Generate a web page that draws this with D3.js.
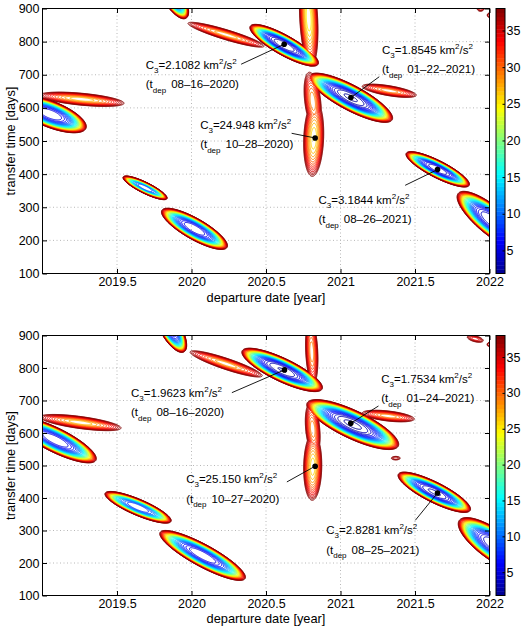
<!DOCTYPE html>
<html>
<head>
<meta charset="utf-8">
<script src="https://cdn.jsdelivr.net/npm/d3@7"></script>
<style>
  body { margin: 0; background: #fff; }
  svg text { font-family: "Liberation Sans", Arial, Helvetica, sans-serif; fill: #000; }
</style>
</head>
<body>
<svg id="chart" width="525" height="626"></svg>
<script>
// axis values
const xDomain = [2019, 2022];
const xTicks = [2019.5, 2020, 2020.5, 2021, 2021.5, 2022];
const yDomain = [100, 900];
const yTicks = [100, 200, 300, 400, 500, 600, 700, 800, 900];
const cbTicks = [5, 10, 15, 20, 25, 30, 35];
const cMax = 38;
const levels = d3.range(2, 39, 1);   // contour levels, km^2/s^2

// C3 "islands":
// [year1, days1, year2, days2, half width (days), min C3, steepness]
const topBlobs = [
  [2018.815, 623.0, 2019.292, 538.4, 39.3, 4, 3],
  [2018.983, 638.1, 2019.547, 613.9, 18, 26, 2],
  [2019.789, 1000.6, 2019.964, 870.7, 30, 5, 3],
  [2019.977, 855.6, 2020.487, 786.1, 15, 27, 2],
  [2020.394, 846.5, 2020.850, 731.7, 30, 2.1082, 3],
  [2020.770, 1015.7, 2020.803, 725.7, 27, 24, 2],
  [2020.830, 623.0, 2020.810, 393.4, 30, 24.948, 2],
  [2020.790, 707.6, 2020.837, 532.3, 24, 28, 2],
  [2020.790, 697.0, 2021.347, 564.1, 37.8, 1.8545, 3],
  [2021.146, 665.3, 2021.508, 638.1, 15, 28, 2],
  [2021.441, 462.9, 2021.864, 366.2, 25.7, 3.1844, 3],
  [2021.790, 342.0, 2022.240, 175.9, 42, 3, 3],
  [2019.541, 391.3, 2019.836, 326.0, 16.6, 8, 3],
  [2019.801, 290.7, 2020.239, 178.9, 31.7, 4, 3],
  [2021.918, 897.9, 2021.965, 900.9, 7.5, 34, 2],
  [2021.985, 879.8, 2022.005, 879.8, 6, 35, 2]
];
const bottomBlobs = [
  [2018.815, 639.9, 2019.359, 516.4, 37, 4, 3],
  [2018.983, 649.1, 2019.527, 615.2, 18.5, 26, 2],
  [2019.776, 985.5, 2019.950, 849.7, 31, 5, 3],
  [2019.991, 849.7, 2020.474, 775.6, 17, 27, 2],
  [2020.340, 852.8, 2020.877, 735.5, 35.5, 1.9623, 3],
  [2020.797, 948.5, 2020.817, 750.9, 18.5, 28, 2],
  [2020.817, 599.7, 2020.810, 393.0, 27.8, 25.150, 2],
  [2020.797, 692.3, 2020.830, 531.8, 21.6, 28, 2],
  [2020.776, 692.3, 2021.388, 559.6, 43, 1.7534, 3],
  [2021.146, 661.5, 2021.495, 642.9, 15.4, 28, 2],
  [2021.341, 522.6, 2021.401, 522.6, 5.5, 35, 2],
  [2021.388, 473.2, 2021.871, 362.1, 31, 2.8281, 3],
  [2021.797, 331.2, 2022.274, 177.0, 46, 3, 3],
  [2019.420, 414.6, 2019.863, 328.2, 24.7, 7, 3],
  [2019.789, 294.2, 2020.360, 152.3, 34, 4, 3],
  [2021.851, 896.0, 2021.958, 883.6, 9, 33, 2],
  [2021.985, 874.4, 2022.005, 871.3, 6, 35, 2]
];

// marked minima: [year, days, C3, departure date]
const topMinima = [
  [2020.622, 792.1, "2.1082", "08–16–2020"],
  [2021.070, 631.1, "1.8545", "01–22–2021"],
  [2020.830, 509.1, "24.948", "10–28–2020"],
  [2021.651, 413.6, "3.1844", "08–26–2021"]
];
const bottomMinima = [
  [2020.624, 794.2, "1.9623", "08–16–2020"],
  [2021.069, 629.7, "1.7534", "01–24–2021"],
  [2020.830, 497.9, "25.150", "10–27–2020"],
  [2021.651, 415.5, "2.8281", "08–25–2021"]
];
// where each label sits: [text year, text days, leader year, leader days]
const topLabelPos = [
  [2019.693, 718.1, 2020.333, 731.7],
  [2021.278, 764.1, 2021.260, 694.0],
  [2020.058, 537.5, 2020.672, 523.3],
  [2020.852, 310.9, 2021.434, 366.2]
];
const bottomLabelPos = [
  [2019.594, 710.8, 2020.271, 724.1],
  [2021.273, 754.0, 2021.255, 683.1],
  [2019.964, 445.4, 2020.640, 449.4],
  [2020.904, 288.0, 2021.502, 331.3]
];

const left = 42.5, right = 489.5;
const panels = [
  { top: 8.5, bottom: 273.5, blobs: topBlobs, minima: topMinima, labels: topLabelPos, cMin: 1.8545, xTitle: 301.5 },
  { top: 335.5, bottom: 595.5, blobs: bottomBlobs, minima: bottomMinima, labels: bottomLabelPos, cMin: 1.7534, xTitle: 623 }
];

// MATLAB jet
const jet = d3.scaleLinear()
  .domain([0, 0.125, 0.375, 0.625, 0.875, 1])
  .range(["#00008f", "#0000ff", "#00ffff", "#ffff00", "#ff0000", "#800000"])
  .clamp(true);

const svg = d3.select("#chart");

panels.forEach((p, k) => {
  const x = d3.scaleLinear().domain(xDomain).range([left, right]);
  const y = d3.scaleLinear().domain(yDomain).range([p.bottom, p.top]);
  const g = svg.append("g");

  // dotted grid
  g.append("g").selectAll("line")
    .data(xTicks.filter(t => t < xDomain[1]))
    .join("line")
    .attr("x1", d => x(d)).attr("x2", d => x(d))
    .attr("y1", p.top).attr("y2", p.bottom)
    .attr("stroke", "#b8b8b8").attr("stroke-dasharray", "1,2.5");
  g.append("g").selectAll("line")
    .data(yTicks.filter(t => t > yDomain[0] && t < yDomain[1]))
    .join("line")
    .attr("x1", left).attr("x2", right)
    .attr("y1", d => y(d)).attr("y2", d => y(d))
    .attr("stroke", "#b8b8b8").attr("stroke-dasharray", "1,2.5");

  // build the C3 field on a fine pixel grid
  const pad = 12, step = 0.5;
  const gx0 = left - pad, gy0 = p.top - pad;
  const nx = Math.ceil((right - left + 2 * pad) / step);
  const ny = Math.ceil((p.bottom - p.top + 2 * pad) / step);
  const comps = p.blobs.map(b => {
    const ax = x(b[0]), ay = y(b[1]), bx = x(b[2]), by = y(b[3]);
    const len = Math.hypot(bx - ax, by - ay) / 2;
    return {
      cx: (ax + bx) / 2, cy: (ay + by) / 2, len: len,
      ux: (bx - ax) / (2 * len), uy: (by - ay) / (2 * len),
      w: Math.abs(y(0) - y(b[4])), c: b[5], p: b[6]
    };
  });
  const values = new Float64Array(nx * ny);
  for (let j = 0; j < ny; j++) {
    const py = gy0 + (j + 0.5) * step;
    for (let i = 0; i < nx; i++) {
      const px = gx0 + (i + 0.5) * step;
      let v = 1000;
      for (const c of comps) {
        const dx = px - c.cx, dy = py - c.cy;
        const a = (dx * c.ux + dy * c.uy) / c.len;
        const b = (dy * c.ux - dx * c.uy) / c.w;
        const r2 = a * a + b * b;
        if (r2 > 4) continue;
        const val = c.c + (cMax - c.c) * Math.pow(r2, c.p / 2);
        if (val < v) v = val;
      }
      values[j * nx + i] = -v;
    }
  }
  const contours = d3.contours()
    .size([nx, ny])
    .thresholds(levels.map(l => -l))(values)
    .sort((a, b) => b.value - a.value);
  const path = d3.geoPath(d3.geoIdentity().scale(step).translate([gx0, gy0]));

  svg.append("clipPath").attr("id", "clip" + k)
    .append("rect")
    .attr("x", left).attr("y", p.top)
    .attr("width", right - left).attr("height", p.bottom - p.top);

  g.append("g").attr("clip-path", `url(#clip${k})`)
    .selectAll("path")
    .data(contours)
    .join("path")
    .attr("d", path)
    .attr("fill", "none")
    .attr("stroke", d => jet((-d.value - p.cMin) / (cMax - p.cMin)))
    .attr("stroke-width", 1);

  // annotations
  const ann = g.append("g");
  p.minima.forEach((m, i) => {
    const lp = p.labels[i];
    ann.append("line")
      .attr("x1", x(lp[2])).attr("y1", y(lp[3]))
      .attr("x2", x(m[0])).attr("y2", y(m[1]))
      .attr("stroke", "#000").attr("stroke-width", 0.9);
    ann.append("circle")
      .attr("cx", x(m[0])).attr("cy", y(m[1])).attr("r", 2.8)
      .attr("fill", "#000");
    const t1 = ann.append("text")
      .attr("x", x(lp[0])).attr("y", y(lp[1]))
      .attr("font-size", 11.5);
    t1.append("tspan").text("C");
    t1.append("tspan").attr("font-size", 8).attr("dy", 4).text("3");
    t1.append("tspan").attr("dy", -4).text("=" + m[2] + " km");
    t1.append("tspan").attr("font-size", 8).attr("dy", -5).text("2");
    t1.append("tspan").attr("dy", 5).text("/s");
    t1.append("tspan").attr("font-size", 8).attr("dy", -5).text("2");
    const t2 = ann.append("text")
      .attr("x", x(lp[0])).attr("y", y(lp[1]) + 19.5)
      .attr("font-size", 11.5);
    t2.append("tspan").text("(t");
    t2.append("tspan").attr("font-size", 8).attr("dy", 4.5).text("dep");
    t2.append("tspan").attr("dy", -4.5).attr("dx", 5).text(m[3] + ")");
  });

  // axes (ticks inside, on all four sides)
  const ax = g.append("g");
  ax.append("g")
    .attr("transform", `translate(0,${p.bottom})`)
    .call(d3.axisBottom(x).tickValues(xTicks).tickFormat(d => d)
      .tickSizeInner(-4.5).tickSizeOuter(0).tickPadding(4));
  ax.append("g")
    .attr("transform", `translate(0,${p.top})`)
    .call(d3.axisTop(x).tickValues(xTicks).tickFormat("")
      .tickSizeInner(-4.5).tickSizeOuter(0));
  ax.append("g")
    .attr("transform", `translate(${left},0)`)
    .call(d3.axisLeft(y).tickValues(yTicks).tickFormat(d => d)
      .tickSizeInner(-4.5).tickSizeOuter(0).tickPadding(3));
  ax.append("g")
    .attr("transform", `translate(${right},0)`)
    .call(d3.axisRight(y).tickValues(yTicks).tickFormat("")
      .tickSizeInner(-4.5).tickSizeOuter(0));
  ax.selectAll(".domain").remove();
  ax.selectAll("text").attr("font-size", 12.5).attr("font-family", null);

  g.append("rect")
    .attr("x", left).attr("y", p.top)
    .attr("width", right - left).attr("height", p.bottom - p.top)
    .attr("fill", "none").attr("stroke", "#000");

  // axis titles
  g.append("text")
    .attr("x", (left + right) / 2).attr("y", p.xTitle)
    .attr("text-anchor", "middle").attr("font-size", 12.8)
    .text("departure date [year]");
  g.append("text")
    .attr("transform", `translate(15,${(p.top + p.bottom) / 2}) rotate(-90)`)
    .attr("text-anchor", "middle").attr("font-size", 12.8)
    .text("transfer time [days]");

  // colorbar
  const cbX = 496, cbW = 9;
  const cb = d3.scaleLinear().domain([p.cMin, cMax]).range([p.bottom, p.top]);
  const nCol = 64;
  const cbData = d3.range(nCol);
  const hStep = (p.bottom - p.top) / nCol;
  g.append("g").selectAll("rect")
    .data(cbData)
    .join("rect")
    .attr("x", cbX)
    .attr("y", d => p.bottom - (d + 1) * hStep)
    .attr("width", cbW)
    .attr("height", hStep + 0.4)
    .attr("fill", d => jet((d + 0.5) / nCol));
  const cbAxis = g.append("g")
    .attr("transform", `translate(${cbX + cbW},0)`)
    .call(d3.axisRight(cb).tickValues(cbTicks)
      .tickSizeInner(-2.5).tickSizeOuter(0).tickPadding(1.5));
  cbAxis.select(".domain").remove();
  cbAxis.selectAll("text").attr("font-size", 12.5).attr("font-family", null);
  g.append("rect")
    .attr("x", cbX).attr("y", p.top)
    .attr("width", cbW).attr("height", p.bottom - p.top)
    .attr("fill", "none").attr("stroke", "#000");
});
</script>
</body>
</html>
